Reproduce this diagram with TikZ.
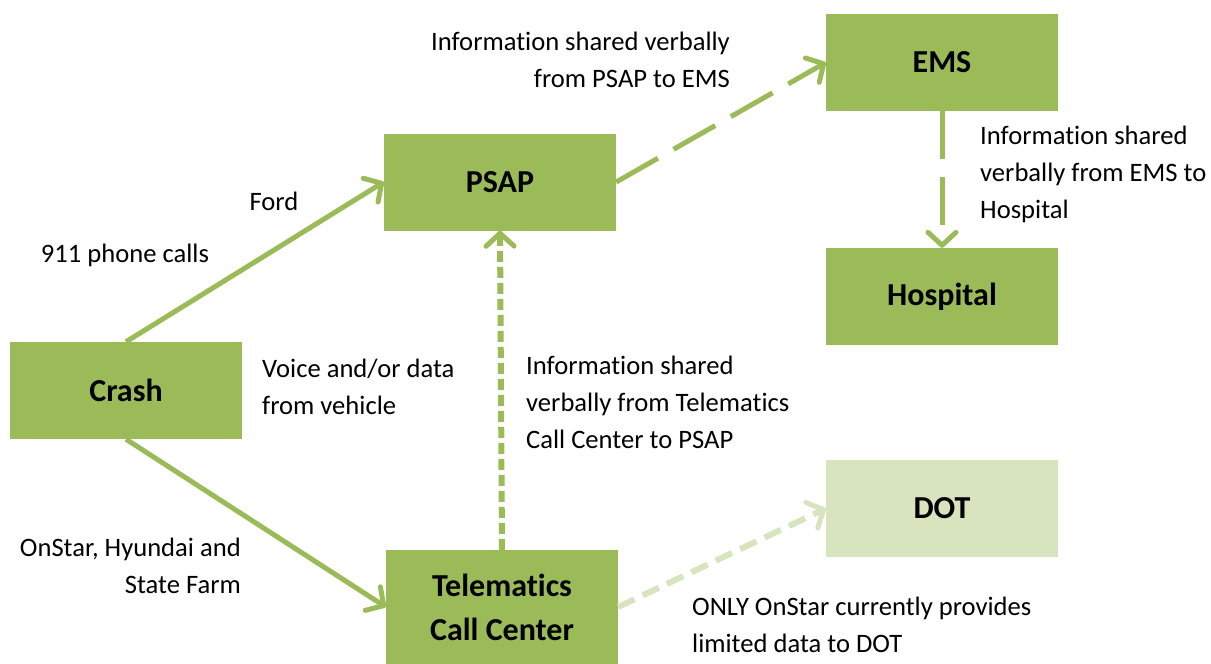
\documentclass[tikz,border=0pt]{standalone}
\usepackage{fontspec}
\setmainfont[Ligatures=NoCommon]{Carlito}
\usetikzlibrary{arrows.meta}
\definecolor{og}{HTML}{9BBB59}
\definecolor{lg}{HTML}{D7E4BD}
\begin{document}
\begin{tikzpicture}[x=1pt,y=-1pt,
  box/.style={fill=og,draw=none,minimum width=232pt,minimum height=97pt,inner sep=0pt,
    font=\fontsize{32}{44}\selectfont\bfseries,align=center},
  lbl/.style={inner sep=0pt,font=\fontsize{26.6}{37}\selectfont},
  tip/.style={-{Straight Barb[length=13pt,width=28pt,line width=5pt,round]}},
  conn/.style={draw=og,line width=5pt,tip},
]
\useasboundingbox (0,0) rectangle (1211,664);
\node[box] (crash) at (126,390.5) {Crash};
\node[box] (psap) at (500,182) {PSAP};
\node[box] (ems) at (942,62.5) {EMS};
\node[box] (hosp) at (942,296.5) {Hospital};
\node[box,fill=lg] (dot) at (942,508.5) {DOT};
\node[box,minimum height=114pt] (tel) at (502,607) {Telematics\\Call Center};

\draw[conn] (crash.north) -- (psap.west);
\draw[conn] (crash.south) -- (tel.west);
\draw[conn,line width=6pt,dash pattern=on 11pt off 5pt] (tel.north) -- (psap.south);
\draw[conn,dash pattern=on 48pt off 18pt] (psap.east) -- (ems.west);
\draw[conn,dash pattern=on 48pt off 18pt] (ems.south) -- (hosp.north);
\draw[conn,draw=lg,line width=6pt,dash pattern=on 18pt off 9pt] (tel.east) -- (dot.west);

\node[lbl,align=right,anchor=east] (l1) at (730,60) {Information shared verbally\\from PSAP to EMS};
\node[lbl] (l2) at (274,201) {Ford};
\node[lbl] (l3) at (125,255) {911 phone calls};
\node[lbl,align=left,anchor=west] (l4) at (262,387) {Voice and/or data\\from vehicle};
\node[lbl,align=left,anchor=west] (l5) at (526,402) {Information shared\\verbally from Telematics\\Call Center to PSAP};
\node[lbl,align=left,anchor=west] (l6) at (980,174) {Information shared\\verbally from EMS to\\Hospital};
\node[lbl,align=right,anchor=east] (l7) at (241,566) {OnStar, Hyundai and\\State Farm};
\node[lbl,align=left,anchor=west] (l8) at (692,625) {ONLY OnStar currently provides\\limited data to DOT};
\end{tikzpicture}
\end{document}
